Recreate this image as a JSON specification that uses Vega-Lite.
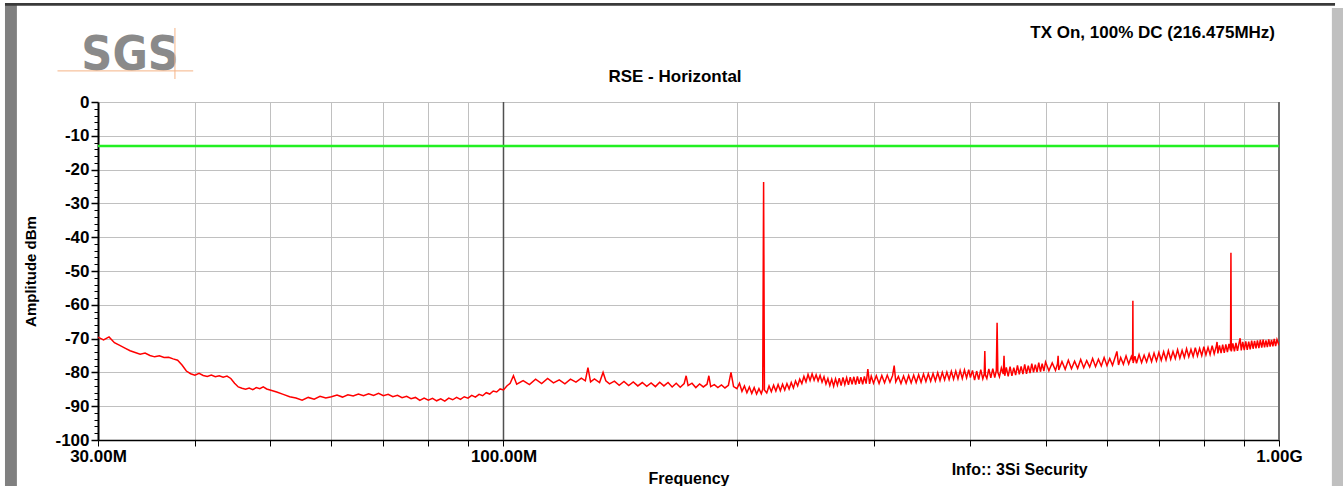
{
  "$schema": "https://vega.github.io/schema/vega-lite/v6.json",
  "width": 1181,
  "height": 338,
  "autosize": {"type": "none"},
  "padding": {"left": 98, "top": 102, "right": 64, "bottom": 46},
  "background": "white",
  "config": {
    "view": {"stroke": null},
    "font": "Liberation Sans",
    "axis": {"domainColor": "black", "tickColor": "black", "labelColor": "black", "titleColor": "black", "labelFont": "Liberation Sans", "titleFont": "Liberation Sans"}
  },
  "resolve": {"axis": {"y": "independent", "x": "independent"}},
  "layer": [
    {
      "data": {"values": [{}]},
      "mark": {"type": "rect", "color": "#808080", "clip": false},
      "encoding": {
        "x": {"datum": 22.76, "type": "quantitative", "scale": {"type": "log", "domain": [30, 1000], "nice": false}, "axis": null},
        "x2": {"datum": 23.58},
        "y": {"datum": 28.7, "type": "quantitative", "scale": {"domain": [-100, 0], "nice": false}, "axis": null},
        "y2": {"datum": -115}
      }
    },
    {
      "data": {"values": [{}]},
      "mark": {"type": "rect", "color": "#3a3a3a", "clip": false},
      "encoding": {
        "x": {"datum": 22.76, "type": "quantitative", "scale": {"type": "log", "domain": [30, 1000], "nice": false}, "axis": null},
        "x2": {"datum": 1181},
        "y": {"datum": 29.3, "type": "quantitative", "scale": {"domain": [-100, 0], "nice": false}, "axis": null},
        "y2": {"datum": 28.5}
      }
    },
    {
      "data": {"values": [{}]},
      "mark": {"type": "rect", "color": "#c0c0c0", "clip": false},
      "encoding": {
        "x": {"datum": 1170, "type": "quantitative", "scale": {"type": "log", "domain": [30, 1000], "nice": false}, "axis": null},
        "x2": {"datum": 1215},
        "y": {"datum": 27.8, "type": "quantitative", "scale": {"domain": [-100, 0], "nice": false}, "axis": null},
        "y2": {"datum": -115}
      }
    },
    {
      "data": {"values": [{}]},
      "mark": {"type": "text", "text": "SGS", "font": "DejaVu Sans Condensed, Liberation Sans Narrow, Roboto Condensed, Liberation Sans, sans-serif", "fontWeight": "bold", "fontSize": 48, "color": "#8a8a8a", "align": "center", "baseline": "alphabetic"},
      "encoding": {
        "x": {"datum": 33.0, "type": "quantitative", "scale": {"type": "log", "domain": [30, 1000], "nice": false}, "axis": null},
        "y": {"datum": 9.5, "type": "quantitative", "scale": {"domain": [-100, 0], "nice": false}, "axis": null}
      }
    },
    {
      "data": {"values": [{}]},
      "mark": {"type": "rule", "color": "#f5b386", "strokeWidth": 1},
      "encoding": {
        "x": {"datum": 26.6, "type": "quantitative", "scale": {"type": "log", "domain": [30, 1000], "nice": false}, "axis": null},
        "x2": {"datum": 39.8},
        "y": {"datum": 9.2, "type": "quantitative", "scale": {"domain": [-100, 0], "nice": false}, "axis": null}
      }
    },
    {
      "data": {"values": [{}]},
      "mark": {"type": "rule", "color": "#f5b386", "strokeWidth": 1},
      "encoding": {
        "x": {"datum": 37.7, "type": "quantitative", "scale": {"type": "log", "domain": [30, 1000], "nice": false}, "axis": null},
        "y": {"datum": 21.9, "type": "quantitative", "scale": {"domain": [-100, 0], "nice": false}, "axis": null},
        "y2": {"datum": 6.8}
      }
    },
    {
      "data": {"values": [{}]},
      "mark": {"type": "text", "text": "RSE - Horizontal", "fontSize": 17, "fontWeight": "bold", "color": "black", "align": "center", "baseline": "middle"},
      "encoding": {
        "x": {"datum": 166.4, "type": "quantitative", "scale": {"type": "log", "domain": [30, 1000], "nice": false}, "axis": null},
        "y": {"datum": 7.4, "type": "quantitative", "scale": {"domain": [-100, 0], "nice": false}, "axis": null}
      }
    },
    {
      "data": {"values": [{}]},
      "mark": {"type": "rule", "color": "#505050", "strokeWidth": 1.5},
      "encoding": {"x": {"datum": 100, "type": "quantitative", "scale": {"type": "log", "domain": [30, 1000], "nice": false}, "axis": null}}
    },
    {
      "data": {"values": [{}]},
      "mark": {"type": "rule", "color": "#707070", "strokeWidth": 2},
      "encoding": {"x": {"datum": 1000, "type": "quantitative", "scale": {"type": "log", "domain": [30, 1000], "nice": false}, "axis": null}}
    },
    {
      "data": {"values": [
        {"f":30,"a":-69.6},{"f":30.5,"a":-70.4},{"f":31,"a":-69.5},{"f":31.5,"a":-71.2},{"f":32,"a":-72.0},{"f":32.5,"a":-72.8},{"f":33,"a":-73.6},{"f":33.5,"a":-74.1},{"f":34,"a":-74.6},{"f":34.5,"a":-74.3},{"f":35,"a":-75.0},{"f":35.5,"a":-75.4},{"f":36,"a":-75.1},{"f":36.5,"a":-75.6},{"f":37,"a":-75.5},{"f":37.5,"a":-76.0},{"f":38,"a":-76.4},{"f":38.5,"a":-77.8},{"f":39,"a":-79.6},{"f":39.5,"a":-80.4},{"f":40,"a":-80.8},{"f":40.5,"a":-80.3},{"f":41,"a":-80.9},{"f":41.5,"a":-81.2},{"f":42,"a":-80.8},{"f":42.5,"a":-81.3},{"f":43,"a":-81.0},{"f":43.5,"a":-81.4},{"f":44,"a":-81.1},{"f":44.5,"a":-81.8},{"f":45,"a":-83.2},{"f":45.5,"a":-84.3},{"f":46,"a":-84.7},{"f":46.5,"a":-85.0},{"f":47,"a":-84.6},{"f":47.5,"a":-85.1},{"f":48,"a":-84.5},{"f":48.5,"a":-84.8},{"f":49,"a":-84.3},{"f":49.5,"a":-84.9},{"f":50,"a":-85.2},
        {"f":51,"a":-85.8},{"f":52,"a":-86.5},{"f":53,"a":-87.2},{"f":54,"a":-87.6},{"f":55,"a":-88.2},{"f":56,"a":-87.4},{"f":57,"a":-87.9},{"f":58,"a":-87.1},{"f":59,"a":-87.6},{"f":60,"a":-87.2},{"f":61,"a":-86.7},{"f":62,"a":-87.3},{"f":63,"a":-86.6},{"f":64,"a":-87.0},{"f":65,"a":-86.4},{"f":66,"a":-86.9},{"f":67,"a":-86.3},{"f":68,"a":-86.8},{"f":69,"a":-86.2},{"f":70,"a":-86.9},{"f":71,"a":-86.5},{"f":72,"a":-87.2},{"f":73,"a":-86.8},{"f":74,"a":-87.5},{"f":75,"a":-87.1},{"f":76,"a":-87.8},{"f":77,"a":-87.4},{"f":78,"a":-88.3},{"f":79,"a":-87.6},{"f":80,"a":-88.2},{"f":81,"a":-87.7},{"f":82,"a":-88.4},{"f":83,"a":-87.8},{"f":84,"a":-88.5},{"f":85,"a":-87.6},{"f":86,"a":-88.1},{"f":87,"a":-87.4},{"f":88,"a":-88.0},{"f":89,"a":-87.2},{"f":90,"a":-87.6},{"f":91,"a":-86.8},{"f":92,"a":-87.3},{"f":93,"a":-86.5},{"f":94,"a":-86.9},{"f":95,"a":-86.0},{"f":96,"a":-86.4},{"f":97,"a":-85.5},{"f":98,"a":-85.8},{"f":99,"a":-84.9},{"f":100,"a":-85.2},
        {"f":101,"a":-84.0},{"f":102,"a":-83.2},{"f":103,"a":-81.0},{"f":104,"a":-83.5},{"f":106,"a":-82.4},{"f":108,"a":-83.6},{"f":110,"a":-82.0},{"f":112,"a":-83.3},{"f":114,"a":-81.8},{"f":116,"a":-83.1},{"f":118,"a":-82.2},{"f":120,"a":-83.4},{"f":122,"a":-82.0},{"f":124,"a":-82.9},{"f":126,"a":-81.7},{"f":127.5,"a":-82.5},{"f":128.5,"a":-78.6},{"f":129.5,"a":-82.8},{"f":131,"a":-81.9},{"f":133,"a":-83.0},{"f":134.4,"a":-80.0},{"f":135.5,"a":-82.5},{"f":137,"a":-83.4},{"f":139,"a":-82.6},{"f":141,"a":-83.8},{"f":143,"a":-82.7},{"f":145,"a":-83.9},{"f":147,"a":-82.8},{"f":149,"a":-84.0},{"f":151,"a":-83.0},{"f":153,"a":-84.1},{"f":155,"a":-83.1},{"f":157,"a":-84.2},{"f":159,"a":-82.9},{"f":161,"a":-84.0},{"f":163,"a":-83.0},{"f":165,"a":-84.3},{"f":167,"a":-83.2},{"f":169,"a":-84.4},{"f":171,"a":-83.3},{"f":172,"a":-81.0},{"f":173,"a":-83.9},{"f":175,"a":-83.2},{"f":177,"a":-84.5},{"f":179,"a":-83.4},{"f":181,"a":-84.3},{"f":183,"a":-83.5},{"f":184,"a":-81.0},{"f":185,"a":-84.2},{"f":187,"a":-83.6},{"f":189,"a":-84.5},{"f":191,"a":-83.7},{"f":193,"a":-84.6},{"f":195,"a":-83.8},{"f":196.5,"a":-80.0},{"f":198,"a":-84.2},{"f":200,"a":-84.8},
        {"f":201.5,"a":-83.2},{"f":203,"a":-85.6},{"f":204.5,"a":-84.0},{"f":206,"a":-86.0},{"f":207.5,"a":-84.3},{"f":209,"a":-86.2},{"f":210.5,"a":-84.5},{"f":212,"a":-86.4},{"f":213.5,"a":-84.8},{"f":215,"a":-86.3},{"f":215.9,"a":-85.0},{"f":216.475,"a":-23.7},{"f":217,"a":-85.2},{"f":218.5,"a":-86.1},{"f":220,"a":-84.0},{"f":221.5,"a":-85.7},{"f":223,"a":-83.8},{"f":224.5,"a":-85.5},{"f":226,"a":-83.6},{"f":227.5,"a":-85.4},{"f":229,"a":-83.5},{"f":230.5,"a":-85.2},{"f":232,"a":-83.3},{"f":233.5,"a":-84.9},{"f":235,"a":-83.0},{"f":236.5,"a":-84.6},{"f":238,"a":-82.5},{"f":239.5,"a":-84.0},{"f":241,"a":-82.0},{"f":242.5,"a":-83.3},{"f":244,"a":-81.2},{"f":245.5,"a":-82.8},{"f":247,"a":-80.6},{"f":248.5,"a":-82.4},{"f":250,"a":-80.4},{"f":251.5,"a":-82.3},{"f":253,"a":-80.7},{"f":254.5,"a":-82.5},{"f":256,"a":-80.9},{"f":257.5,"a":-82.9},{"f":259,"a":-81.3},{"f":260.5,"a":-83.4},{"f":262,"a":-81.8},{"f":263.5,"a":-83.9},{"f":265,"a":-82.0},{"f":266.5,"a":-84.1},{"f":268,"a":-81.9},{"f":269.5,"a":-83.8},{"f":271,"a":-81.7},{"f":272.5,"a":-83.9},{"f":274,"a":-81.5},{"f":275.5,"a":-83.6},{"f":277,"a":-81.6},{"f":278.5,"a":-83.7},{"f":280,"a":-81.4},{"f":281.5,"a":-83.5},{"f":283,"a":-81.3},{"f":284.5,"a":-83.6},{"f":286,"a":-81.2},{"f":287.5,"a":-83.4},{"f":289,"a":-81.4},{"f":290.5,"a":-83.5},{"f":292,"a":-81.2},{"f":293.5,"a":-83.3},{"f":295,"a":-79.0},{"f":296.5,"a":-83.4},{"f":298,"a":-81.1},{"f":300,"a":-83.2},{"f":302.5,"a":-81.0},{"f":305,"a":-83.3},{"f":307.5,"a":-80.9},{"f":310,"a":-83.1},{"f":312.5,"a":-80.8},{"f":315,"a":-82.9},{"f":317.5,"a":-80.9},{"f":319,"a":-78.0},{"f":320.5,"a":-82.8},
        {"f":323,"a":-81.2},{"f":325.5,"a":-83.3},{"f":328,"a":-81.1},{"f":330.5,"a":-83.2},{"f":333,"a":-80.9},{"f":335.5,"a":-83.1},{"f":338,"a":-80.8},{"f":340.5,"a":-83.0},{"f":343,"a":-80.7},{"f":345.5,"a":-82.9},{"f":348,"a":-80.5},{"f":350.5,"a":-82.7},{"f":353,"a":-80.4},{"f":355.5,"a":-82.6},{"f":358,"a":-80.3},{"f":360.5,"a":-82.5},{"f":363,"a":-80.1},{"f":365.5,"a":-82.4},{"f":368,"a":-80.0},{"f":370.5,"a":-82.2},{"f":373,"a":-79.9},{"f":375.5,"a":-82.1},{"f":378,"a":-79.7},{"f":380.5,"a":-82.0},{"f":383,"a":-79.6},{"f":385.5,"a":-81.9},{"f":388,"a":-79.4},{"f":390.5,"a":-81.8},{"f":393,"a":-79.3},{"f":395.5,"a":-81.6},{"f":398,"a":-79.2},{"f":400,"a":-81.5},
        {"f":402.5,"a":-79.4},{"f":405,"a":-82.3},{"f":407.5,"a":-79.6},{"f":410,"a":-82.1},{"f":412.5,"a":-79.2},{"f":415,"a":-81.9},{"f":416.8,"a":-80.5},{"f":417.5,"a":-73.7},{"f":418.2,"a":-80.8},{"f":420,"a":-81.8},{"f":422.5,"a":-79.0},{"f":425,"a":-81.6},{"f":427.5,"a":-78.9},{"f":430,"a":-81.5},{"f":432,"a":-79.5},{"f":433,"a":-65.3},{"f":434,"a":-80.0},{"f":436,"a":-81.3},{"f":438.5,"a":-78.7},{"f":441,"a":-80.5},{"f":442,"a":-75.1},{"f":443,"a":-81.0},{"f":445,"a":-78.5},{"f":447.5,"a":-81.2},{"f":450,"a":-78.3},{"f":452.5,"a":-81.0},{"f":455,"a":-78.6},{"f":457.5,"a":-80.8},{"f":460,"a":-77.9},{"f":462.5,"a":-80.6},{"f":465,"a":-78.2},{"f":467.5,"a":-80.5},{"f":470,"a":-77.6},{"f":472.5,"a":-80.4},{"f":475,"a":-78.0},{"f":477.5,"a":-80.2},{"f":480,"a":-77.4},{"f":482.5,"a":-80.0},{"f":485,"a":-77.7},{"f":487.5,"a":-79.9},{"f":490,"a":-77.1},{"f":492.5,"a":-79.8},{"f":495,"a":-77.4},{"f":497.5,"a":-79.6},{"f":500,"a":-76.9},
        {"f":505,"a":-79.5},{"f":510,"a":-77.2},{"f":515,"a":-79.4},{"f":518,"a":-77.5},{"f":519,"a":-75.1},{"f":520,"a":-79.3},{"f":525,"a":-76.8},{"f":530,"a":-79.1},{"f":535,"a":-76.4},{"f":540,"a":-78.9},{"f":545,"a":-76.7},{"f":550,"a":-78.8},{"f":555,"a":-76.2},{"f":560,"a":-78.6},{"f":565,"a":-76.5},{"f":570,"a":-78.4},{"f":575,"a":-75.9},{"f":580,"a":-78.3},{"f":585,"a":-76.1},{"f":590,"a":-78.1},{"f":595,"a":-75.6},{"f":600,"a":-78.0},{"f":605,"a":-75.9},{"f":610,"a":-77.9},{"f":615,"a":-75.4},{"f":618,"a":-73.8},{"f":621,"a":-77.8},{"f":625,"a":-75.6},{"f":630,"a":-77.6},{"f":635,"a":-75.1},{"f":640,"a":-77.5},{"f":645,"a":-75.3},{"f":647.5,"a":-76.5},{"f":648,"a":-58.8},{"f":648.5,"a":-77.2},{"f":652,"a":-75.2},{"f":655,"a":-77.3},{"f":660,"a":-74.7},{"f":665,"a":-77.1},{"f":670,"a":-74.9},{"f":675,"a":-76.9},{"f":680,"a":-74.5},{"f":685,"a":-76.8},{"f":690,"a":-74.3},{"f":695,"a":-76.6},{"f":700,"a":-74.1},
        {"f":705,"a":-76.4},{"f":710,"a":-73.9},{"f":715,"a":-76.3},{"f":720,"a":-73.6},{"f":725,"a":-76.1},{"f":730,"a":-73.8},{"f":735,"a":-75.9},{"f":740,"a":-73.3},{"f":745,"a":-75.8},{"f":750,"a":-73.5},{"f":755,"a":-75.6},{"f":760,"a":-73.0},{"f":765,"a":-75.4},{"f":770,"a":-73.2},{"f":775,"a":-75.3},{"f":780,"a":-72.7},{"f":785,"a":-75.1},{"f":790,"a":-72.9},{"f":795,"a":-75.0},{"f":800,"a":-72.4},{"f":805,"a":-74.8},{"f":810,"a":-72.6},{"f":815,"a":-74.7},{"f":820,"a":-72.1},{"f":825,"a":-74.5},{"f":830,"a":-72.3},{"f":832,"a":-71.0},{"f":834,"a":-74.4},{"f":838,"a":-72.0},{"f":842,"a":-74.3},{"f":846,"a":-71.8},{"f":850,"a":-74.2},{"f":854,"a":-71.7},{"f":858,"a":-74.0},{"f":862,"a":-71.6},{"f":866,"a":-73.5},{"f":867,"a":-44.6},{"f":868,"a":-73.8},{"f":872,"a":-71.4},{"f":876,"a":-73.8},{"f":880,"a":-71.3},{"f":884,"a":-73.6},{"f":888,"a":-71.4},{"f":891,"a":-69.9},{"f":894,"a":-73.5},{"f":898,"a":-71.0},{"f":902,"a":-73.4},{"f":906,"a":-70.8},{"f":910,"a":-73.3},{"f":914,"a":-70.9},{"f":918,"a":-73.2},{"f":922,"a":-70.6},{"f":926,"a":-73.0},{"f":930,"a":-70.7},{"f":934,"a":-72.9},{"f":938,"a":-70.5},{"f":942,"a":-72.8},{"f":946,"a":-70.4},{"f":950,"a":-72.7},{"f":954,"a":-70.3},{"f":958,"a":-72.6},{"f":962,"a":-70.5},{"f":966,"a":-72.5},{"f":970,"a":-70.2},{"f":974,"a":-72.4},{"f":978,"a":-70.4},{"f":982,"a":-72.3},{"f":986,"a":-70.1},{"f":990,"a":-72.2},{"f":994,"a":-70.3},{"f":1000,"a":-72.0}
      ]},
      "mark": {"type": "line", "color": "#ff0000", "strokeWidth": 1.5, "clip": true},
      "encoding": {
        "x": {"field": "f", "type": "quantitative", "title": "Frequency", "scale": {"type": "log", "domain": [30, 1000], "nice": false},
          "axis": {"values": [30,40,50,60,70,80,90,100,200,300,400,500,600,700,800,900,1000],
            "labelExpr": "datum.value == 30 ? '30.00M' : datum.value == 100 ? '100.00M' : datum.value == 1000 ? '1.00G' : ''",
            "grid": true, "gridColor": "#c0c0c0", "gridWidth": 1, "tickSize": 6, "tickWidth": 1, "domainWidth": 1.5,
            "labelFontSize": 17, "labelFontWeight": "bold", "labelPadding": 2, "labelOverlap": false, "labelFlush": false, "labelBound": false,
            "titleFontSize": 16, "titleFontWeight": "bold", "titlePadding": 6, "orient": "bottom"}},
        "y": {"field": "a", "type": "quantitative", "title": "Amplitude dBm", "scale": {"domain": [-100, 0], "nice": false},
          "axis": {"values": [-100,-98,-96,-94,-92,-90,-88,-86,-84,-82,-80,-78,-76,-74,-72,-70,-68,-66,-64,-62,-60,-58,-56,-54,-52,-50,-48,-46,-44,-42,-40,-38,-36,-34,-32,-30,-28,-26,-24,-22,-20,-18,-16,-14,-12,-10,-8,-6,-4,-2,0],
            "labelExpr": "datum.value % 10 == 0 ? '' + datum.value : ''",
            "grid": true, "gridColor": "#c0c0c0", "gridWidth": 1,
            "gridOpacity": {"condition": {"test": "datum.value % 10 == 0", "value": 1}, "value": 0},
            "tickSize": {"condition": {"test": "datum.value % 10 == 0", "value": 7}, "value": 4},
            "tickWidth": {"condition": {"test": "datum.value % 10 == 0", "value": 1.5}, "value": 1},
            "domainWidth": 2, "labelFontSize": 17, "labelFontWeight": "bold", "labelPadding": 2, "labelFlush": false, "labelOverlap": false,
            "titleFontSize": 15, "titleFontWeight": "bold", "titlePadding": 16, "orient": "left"}}
      }
    },
    {
      "data": {"values": [{}]},
      "mark": {"type": "rule", "color": "#22f022", "strokeWidth": 2.5},
      "encoding": {
        "y": {"datum": -13, "type": "quantitative", "scale": {"domain": [-100, 0], "nice": false}, "axis": null}
      }
    },
    {
      "data": {"values": [{}]},
      "mark": {"type": "text", "text": "TX On, 100% DC (216.475MHz)", "fontSize": 17, "fontWeight": "bold", "color": "black", "align": "right", "baseline": "middle", "dx": -4},
      "encoding": {
        "x": {"datum": 1000, "type": "quantitative", "scale": {"type": "log", "domain": [30, 1000], "nice": false}, "axis": null},
        "y": {"datum": 20.4, "type": "quantitative", "scale": {"domain": [-100, 0], "nice": false}, "axis": null}
      }
    },
    {
      "data": {"values": [{}]},
      "mark": {"type": "text", "text": "Info:: 3Si Security", "fontSize": 16, "fontWeight": "bold", "color": "black", "align": "center", "baseline": "middle"},
      "encoding": {
        "x": {"datum": 463, "type": "quantitative", "scale": {"type": "log", "domain": [30, 1000], "nice": false}, "axis": null},
        "y": {"datum": -108.9, "type": "quantitative", "scale": {"domain": [-100, 0], "nice": false}, "axis": null}
      }
    }
  ]
}
